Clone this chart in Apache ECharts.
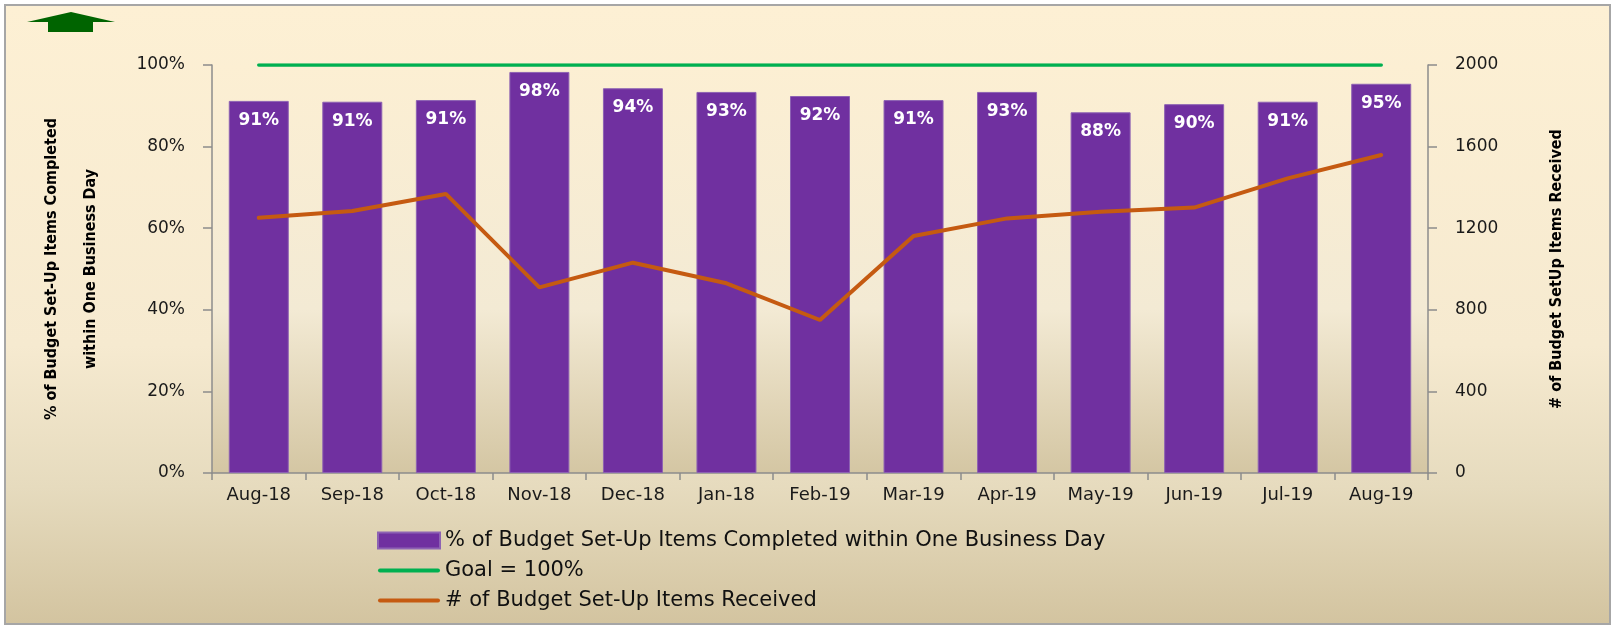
<!DOCTYPE html>
<html>
<head>
<meta charset="utf-8">
<title>Budget Set-Up Items</title>
<script src="https://cdn.jsdelivr.net/npm/echarts@6/dist/echarts.min.js"></script>
<style>
    html, body {
        margin: 0;
        padding: 0;
        background: #fff;
    }
    .frame {
        position: absolute;
        left: 4px;
        top: 4px;
        width: 1603px;
        height: 617px;
        border: 2px solid #a6a6a6;
        background: linear-gradient(to bottom, #fdf0d4 0%, #f6ead0 55%, #e6dbbe 78%, #d3c4a0 100%);
    }
    .chart {
        position: absolute;
        left: 0;
        top: 0;
        width: 1611px;
        height: 625px;
    }
</style>
</head>
<body>
<div class="frame"></div>
<div class="chart" id="chart"></div>
<script>
// 月份
const months = ['Aug-18', 'Sep-18', 'Oct-18', 'Nov-18', 'Dec-18', 'Jan-18', 'Feb-19',
    'Mar-19', 'Apr-19', 'May-19', 'Jun-19', 'Jul-19', 'Aug-19']
// 一个工作日内完成的比例 (%)
const completedPct = [91.2, 91.0, 91.4, 98.3, 94.3, 93.4, 92.4, 91.4, 93.4, 88.4, 90.4, 91.0, 95.4]
// 目标 100%
const goalPct = [100, 100, 100, 100, 100, 100, 100, 100, 100, 100, 100, 100, 100]
// 收到的数量
const received = [1251, 1284, 1368, 910, 1031, 930, 750, 1162, 1248, 1281, 1301, 1444, 1559]

const barName = '% of Budget Set-Up Items Completed within One Business Day'
const goalName = 'Goal = 100%'
const lineName = '# of Budget Set-Up Items Received'

// 图例里的线条图标
const lineIcon = 'path://M2,0 L60,0 A2,2 0 0 1 60,4 L2,4 A2,2 0 0 1 2,0 Z'
const titleFont = "'DejaVu Sans Condensed', 'Liberation Sans Narrow', 'Liberation Sans', sans-serif"

const tickFont = {
    fontFamily: 'DejaVu Sans',
    fontSize: 17,
    color: '#1a1a1a'
}
const axisLineStyle = {
    lineStyle: {
        color: '#8c8c8c',
        width: 1.5
    }
}

const myChart = echarts.init(document.getElementById('chart'))
const options = {
    animation: false,
    backgroundColor: 'transparent',
    graphic: [
        {
            type: 'polygon',
            shape: { points: [[27, 22], [71, 12], [115, 22]] },
            style: { fill: '#006400' }
        },
        {
            type: 'rect',
            shape: { x: 48, y: 21, width: 45, height: 11 },
            style: { fill: '#006400' }
        }
    ],
    grid: {
        left: 212,
        right: 183,
        top: 65,
        bottom: 152,
        containLabel: false,
        outerBoundsMode: 'none',
        show: true,
        borderWidth: 0,
        backgroundColor: new echarts.graphic.LinearGradient(0, 0, 0, 1, [
            { offset: 0, color: '#fcefd3' },
            { offset: 0.6, color: '#f3ead4' },
            { offset: 1, color: '#d4c6a3' }
        ])
    },
    legend: {
        orient: 'vertical',
        left: 372,
        top: 525,
        itemWidth: 62,
        itemHeight: 16,
        itemGap: 9,
        textStyle: {
            fontFamily: 'DejaVu Sans',
            fontSize: 21,
            color: '#111'
        },
        data: [
            { name: barName, icon: 'rect' },
            { name: goalName, icon: lineIcon },
            { name: lineName, icon: lineIcon }
        ]
    },
    xAxis: {
        type: 'category',
        data: months,
        axisLine: axisLineStyle,
        axisTick: {
            show: true,
            length: 7,
            lineStyle: { color: '#8c8c8c', width: 1.5 }
        },
        axisLabel: {
            ...tickFont,
            fontSize: 18,
            margin: 13,
            interval: 0
        }
    },
    yAxis: [
        {
            type: 'value',
            min: 0,
            max: 100,
            interval: 20,
            name: '% of Budget Set-Up Items Completed\nwithin One Business Day',
            nameLocation: 'middle',
            nameRotate: 90,
            nameGap: 102,
            nameTextStyle: {
                fontFamily: titleFont,
                fontWeight: 'bold',
                fontSize: 16,
                lineHeight: 39,
                color: '#000'
            },
            axisLine: { show: true, ...axisLineStyle },
            axisTick: {
                show: true,
                length: 9,
                lineStyle: { color: '#8c8c8c', width: 1.5 }
            },
            splitLine: { show: false },
            axisLabel: {
                ...tickFont,
                margin: 27,
                formatter: '{value}%'
            }
        },
        {
            type: 'value',
            min: 0,
            max: 2000,
            interval: 400,
            name: '# of Budget SetUp Items Received',
            nameLocation: 'middle',
            nameRotate: 90,
            nameGap: 117,
            nameTextStyle: {
                fontFamily: titleFont,
                fontWeight: 'bold',
                fontSize: 16,
                lineHeight: 24,
                color: '#000'
            },
            axisLine: { show: true, ...axisLineStyle },
            axisTick: {
                show: true,
                length: 9,
                lineStyle: { color: '#8c8c8c', width: 1.5 }
            },
            splitLine: { show: false },
            axisLabel: {
                ...tickFont,
                margin: 27,
                formatter: v => String(v)
            }
        }
    ],
    series: [
        {
            name: barName,
            type: 'bar',
            yAxisIndex: 0,
            barWidth: 60,
            itemStyle: {
                color: '#7030a0',
                borderColor: '#8d62b3',
                borderWidth: 1
            },
            label: {
                show: true,
                position: 'insideTop',
                distance: 11,
                color: '#fff',
                fontFamily: 'DejaVu Sans',
                fontWeight: 'bold',
                fontSize: 17,
                formatter: p => Math.round(p.value) + '%'
            },
            data: completedPct
        },
        {
            name: goalName,
            type: 'line',
            yAxisIndex: 0,
            symbol: 'none',
            lineStyle: {
                color: '#00b050',
                width: 3.5,
                cap: 'round'
            },
            itemStyle: { color: '#00b050' },
            data: goalPct
        },
        {
            name: lineName,
            type: 'line',
            yAxisIndex: 1,
            symbol: 'none',
            lineStyle: {
                color: '#c55a11',
                width: 4,
                cap: 'round'
            },
            itemStyle: { color: '#c55a11' },
            data: received
        }
    ]
}
myChart.setOption(options)
</script>
</body>
</html>
